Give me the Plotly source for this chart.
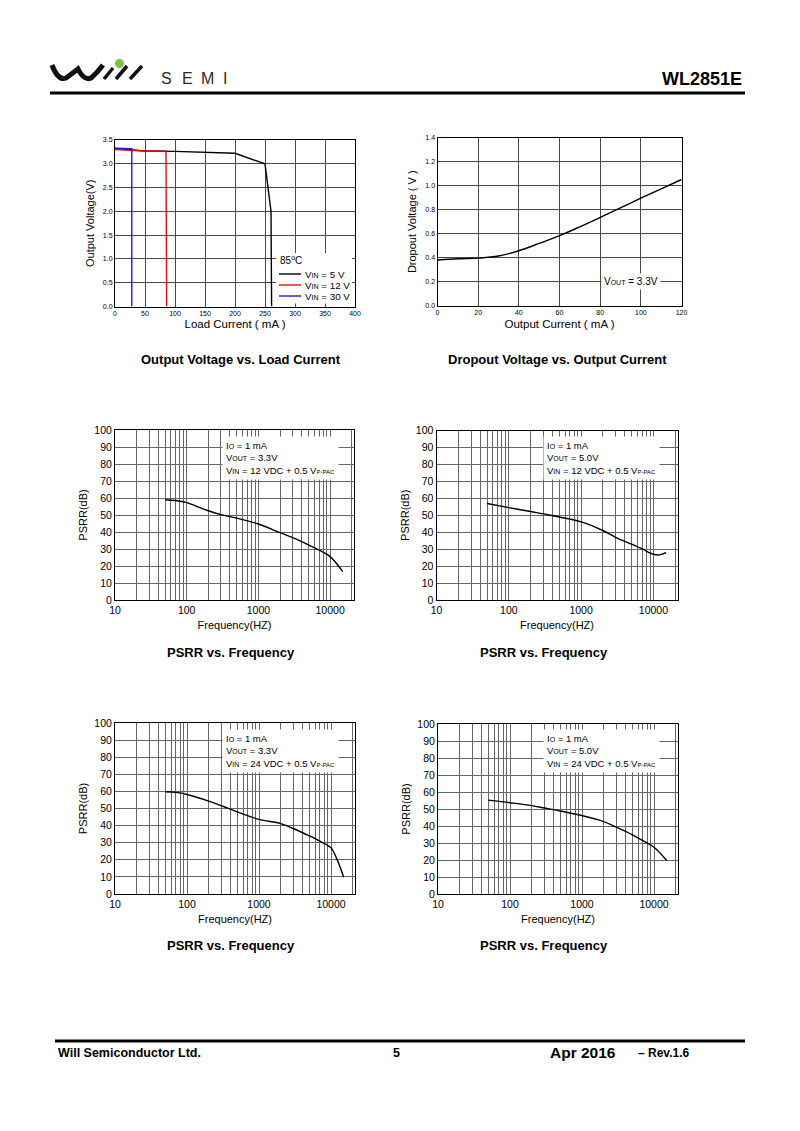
import plotly.graph_objects as go

# the page body has an 8px margin; the figure is sized and offset to fit the 800x1131 window
OFF = 8
W, H = 800 - 2 * OFF, 1131 - 2 * OFF
FONT = "Arial, 'Liberation Sans', sans-serif"

# ---------------- data ----------------
load_current_5v = [0, 25, 50, 100, 150, 200, 250, 260, 261]
vout_5v = [3.32, 3.29, 3.27, 3.26, 3.245, 3.22, 3.0, 2.0, 0.0]
load_current_12v = [0, 30, 50, 85, 86]
vout_12v = [3.30, 3.28, 3.27, 3.27, 0.0]
load_current_30v = [0, 20, 28, 28]
vout_30v = [3.33, 3.32, 3.32, 0.0]
series_names = ["V<span style='font-size:7px'>IN</span> = 5 V",
                "V<span style='font-size:7px'>IN</span> = 12 V",
                "V<span style='font-size:7px'>IN</span> = 30 V"]
series_colors = ["black", "#e01010", "#1a1ae0"]

dropout_current = [0, 10, 20, 30, 40, 50, 60, 70, 80, 90, 100, 110, 120]
dropout_voltage = [0.382, 0.392, 0.398, 0.415, 0.459, 0.52, 0.584, 0.658, 0.736, 0.816, 0.896, 0.974, 1.051]

psrr1_freq = [50, 70, 100, 150, 200, 300, 500, 1000, 2000, 3000, 5000, 7000, 10000, 15000]
psrr1_db = [59.0, 58.5, 57.3, 54.5, 52.5, 50.2, 48.2, 44.7, 39.6, 36.7, 32.4, 29.4, 25.5, 16.7]

psrr2_freq = [50, 100, 200, 300, 500, 1000, 2000, 3000, 5000, 7000, 10000, 12000, 15000]
psrr2_db = [56.9, 54.5, 52.2, 50.8, 49.0, 46.1, 41.0, 37.0, 32.9, 30.1, 27.0, 26.6, 28.0]

psrr3_freq = [50, 70, 100, 200, 300, 500, 1000, 2000, 3000, 5000, 7000, 10000, 12000, 15000]
psrr3_db = [59.8, 59.4, 58.2, 54.3, 51.6, 48.0, 43.6, 41.2, 38.3, 34.0, 30.9, 27.0, 20.7, 9.8]

psrr4_freq = [50, 100, 200, 300, 500, 1000, 2000, 3000, 5000, 7000, 10000, 15000]
psrr4_db = [55.2, 53.7, 52.0, 50.6, 48.8, 46.1, 42.6, 39.3, 34.8, 31.4, 27.5, 19.7]

log_ticks = [m * 10 ** e for e in range(1, 5) for m in range(1, 10)] + [20000]
log_labels = [str(v) if v in (10, 100, 1000, 10000) else "" for v in log_ticks]


def px(x):
    return (x - OFF) / W


def py(y):
    return 1 - (y - OFF) / H


fig = go.Figure()

# chart 1
for xs, ys, nm, col in zip([load_current_5v, load_current_12v, load_current_30v], [vout_5v, vout_12v, vout_30v],
                           series_names, series_colors):
    fig.add_trace(go.Scatter(x=xs, y=ys, mode="lines", line=dict(color=col, width=1.4), name=nm, xaxis="x", yaxis="y"))
# chart 2
fig.add_trace(go.Scatter(x=dropout_current, y=dropout_voltage, mode="lines", line=dict(color="black", width=1.4, shape="spline"),
                         xaxis="x2", yaxis="y2"))
# PSRR
for i, (f, d) in enumerate([(psrr1_freq, psrr1_db), (psrr2_freq, psrr2_db), (psrr3_freq, psrr3_db), (psrr4_freq, psrr4_db)]):
    n = i + 3
    fig.add_trace(go.Scatter(x=f, y=d, mode="lines", line=dict(color="black", width=1.4, shape="spline"),
                             xaxis=f"x{n}", yaxis=f"y{n}"))

frame = dict(showline=True, linecolor="black", linewidth=1, mirror=True, zeroline=False, ticks="", automargin=False)

domains = {
    1: ((115, 355), (140, 306.5)),
    2: ((437.5, 681.5), (137.5, 306)),
    3: ((115, 354), (430, 600)),
    4: ((436.5, 677.5), (430.5, 600)),
    5: ((115, 355), (723, 894)),
    6: ((438, 678), (724, 894)),
}

layout = dict(template="none", width=W, height=H, autosize=False, margin=dict(l=0, r=0, t=0, b=0, pad=0),
              paper_bgcolor="white", plot_bgcolor="white",
              font=dict(family=FONT, color="black"), showlegend=False)

for n, ((x0, x1), (y0, y1)) in domains.items():
    xk = "xaxis" if n == 1 else f"xaxis{n}"
    yk = "yaxis" if n == 1 else f"yaxis{n}"
    xd = [px(x0), px(x1)]
    yd = [py(y1), py(y0)]
    ya = "y" if n == 1 else f"y{n}"
    xa = "x" if n == 1 else f"x{n}"
    if n == 1:
        layout[xk] = dict(domain=xd, anchor=ya, range=[0, 400], dtick=50, tick0=0, showgrid=True, gridcolor="#4a4a4a", gridwidth=1,
                          tickfont=dict(size=7), title=dict(text="Load Current ( mA )", font=dict(size=11.5), standoff=4), **frame)
        layout[yk] = dict(domain=yd, anchor=xa, range=[0, 3.5], dtick=0.5, tick0=0, tickformat=".1f", showgrid=True, gridcolor="#4a4a4a",
                          tickfont=dict(size=7), title=dict(text="Output Voltage(V)", font=dict(size=11), standoff=6), **frame)
    elif n == 2:
        layout[xk] = dict(domain=xd, anchor=ya, range=[0, 120], dtick=20, tick0=0, showgrid=True, gridcolor="#4a4a4a",
                          tickfont=dict(size=7), title=dict(text="Output Current ( mA )", font=dict(size=11.5), standoff=4), **frame)
        layout[yk] = dict(domain=yd, anchor=xa, range=[0, 1.4], dtick=0.2, tick0=0, tickformat=".1f", showgrid=True, gridcolor="#4a4a4a",
                          tickfont=dict(size=7), title=dict(text="Dropout Voltage ( V )", font=dict(size=11), standoff=6), **frame)
    else:
        layout[xk] = dict(domain=xd, anchor=ya, type="log", range=[1, 4.333], tickmode="array", tickvals=log_ticks, ticktext=log_labels,
                          showgrid=True, gridcolor="#666", gridwidth=1, tickfont=dict(size=10.5),
                          title=dict(text="Frequency(HZ)", font=dict(size=11), standoff=6), **frame)
        layout[yk] = dict(domain=yd, anchor=xa, range=[0, 100], dtick=10, tick0=0, showgrid=True, gridcolor="#666",
                          tickfont=dict(size=10.5), title=dict(text="PSRR(dB)", font=dict(size=11), standoff=4), **frame)

fig.update_layout(**layout)

sub = lambda t, s=7: f"<span style='font-size:{s}px'>{t}</span>"

ann = []
# legend of chart 1 (key box drawn below as shapes)
ann.append(dict(text="85<sup>o</sup>C", xref="paper", yref="paper", x=px(278), y=py(260), xanchor="left", yanchor="middle",
                showarrow=False, font=dict(size=10)))
leg_y = [274, 285, 296]
for nm, ly in zip(series_names, leg_y):
    ann.append(dict(text=nm, xref="paper", yref="paper", x=px(303), y=py(ly), xanchor="left", yanchor="middle",
                    showarrow=False, font=dict(size=9.8)))

# PSRR info boxes
info = [
    (3, "3.3V", "12", 226, 439),
    (4, "5.0V", "12", 547, 439),
    (5, "3.3V", "24", 226, 732),
    (6, "5.0V", "24", 547, 732),
]
for n, vout, vin, ax, ay in info:
    txt = (f"I{sub('O')} = 1 mA<br>V{sub('OUT')} = {vout}<br>V{sub('IN')} = {vin} VDC + 0.5 V{sub('P-PAC', 6)}")
    ann.append(dict(text=txt, xref="paper", yref="paper", x=px(ax - 4), y=py(ay - 3), xanchor="left", yanchor="top",
                    align="left", showarrow=False, bgcolor="white", borderpad=3, font=dict(size=9.5)))

# dropout box
ann.append(dict(text=f"V{sub('OUT')} = 3.3V", xref="paper", yref="paper", x=px(631), y=py(282), xanchor="center", yanchor="middle",
                showarrow=False, bgcolor="white", borderpad=2, font=dict(size=10)))

# captions
caps = [("Output Voltage vs. Load Current", 241, 359), ("Dropout Voltage vs. Output Current", 557, 359),
        ("PSRR vs. Frequency", 231, 652), ("PSRR vs. Frequency", 544, 652),
        ("PSRR vs. Frequency", 231, 945), ("PSRR vs. Frequency", 544, 945)]
for t, cx, cy in caps:
    ann.append(dict(text=f"<b>{t}</b>", xref="paper", yref="paper", x=px(cx), y=py(cy), xanchor="center", yanchor="middle",
                    showarrow=False, font=dict(size=13)))

# header / footer
ann.append(dict(text="<b>WL2851E</b>", xref="paper", yref="paper", x=px(744), y=py(79), xanchor="right", yanchor="middle",
                showarrow=False, font=dict(size=18)))
for i, letter in enumerate("SEMI"):
    ann.append(dict(text=letter, xref="paper", yref="paper", x=px([166, 187, 207, 225][i]), y=py(78.5), xanchor="center",
                    yanchor="middle", showarrow=False, font=dict(size=16, color="#2a2a2a")))
ann.append(dict(text="<b>Will Semiconductor Ltd.</b>", xref="paper", yref="paper", x=px(56), y=py(1053), xanchor="left",
                yanchor="middle", showarrow=False, font=dict(size=12.5)))
ann.append(dict(text="<b>5</b>", xref="paper", yref="paper", x=px(396), y=py(1053), xanchor="center", yanchor="middle",
                showarrow=False, font=dict(size=12.5)))
ann.append(dict(text="<b>Apr 2016</b>", xref="paper", yref="paper", x=px(548), y=py(1052), xanchor="left", yanchor="middle",
                showarrow=False, font=dict(size=15.5)))
ann.append(dict(text="<b>– Rev.1.6</b>", xref="paper", yref="paper", x=px(636), y=py(1053), xanchor="left", yanchor="middle",
                showarrow=False, font=dict(size=12)))

fig.update_layout(annotations=ann)

shapes = [
    dict(type="line", xref="paper", yref="paper", x0=px(50), x1=px(745), y0=py(93), y1=py(93), line=dict(color="black", width=3)),
    dict(type="line", xref="paper", yref="paper", x0=px(55), x1=px(745), y0=py(1041), y1=py(1041), line=dict(color="black", width=3)),
    # legend key box of chart 1
    dict(type="rect", xref="paper", yref="paper", x0=px(276), x1=px(352), y0=py(303.5), y1=py(253), fillcolor="white",
         line=dict(width=0), layer="above"),
    # logo wave
    dict(type="path", xref="paper", yref="paper",
         path="M {:.5f},{:.5f} Q {:.5f},{:.5f} {:.5f},{:.5f} Q {:.5f},{:.5f} {:.5f},{:.5f} Q {:.5f},{:.5f} {:.5f},{:.5f} Q {:.5f},{:.5f} {:.5f},{:.5f}".format(
             px(52), py(65), px(58), py(81), px(66), py(78), px(73), py(73), px(78), py(69), px(84), py(81), px(91), py(78), px(97), py(73), px(103), py(65)),
         line=dict(color="#111", width=5)),
    dict(type="line", xref="paper", yref="paper", x0=px(104), y0=py(79), x1=px(113), y1=py(68), line=dict(color="#111", width=3.5)),
    dict(type="line", xref="paper", yref="paper", x0=px(116), y0=py(79), x1=px(127), y1=py(66), line=dict(color="#111", width=3.5)),
    dict(type="line", xref="paper", yref="paper", x0=px(130), y0=py(79), x1=px(142), y1=py(66), line=dict(color="#111", width=3.5)),
    dict(type="circle", xref="paper", yref="paper", x0=px(115), x1=px(124), y0=py(68), y1=py(59), fillcolor="#7dc242",
         line=dict(width=0)),
]
for col, ly in zip(series_colors, leg_y):
    shapes.append(dict(type="line", xref="paper", yref="paper", x0=px(279), x1=px(301), y0=py(ly), y1=py(ly),
                       line=dict(color=col, width=1.4), layer="above"))
fig.update_layout(shapes=shapes)

fig.write_html("out.html")
